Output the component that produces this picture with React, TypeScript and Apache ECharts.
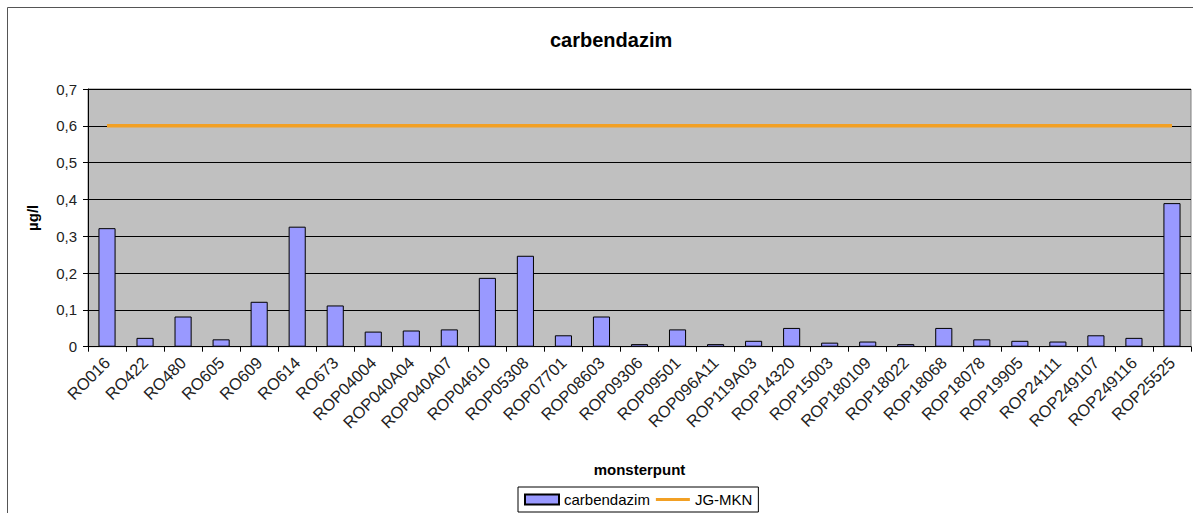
import React, { useEffect, useRef } from "react";
import * as echarts from "echarts";

const categories = [
  "RO016", "RO422", "RO480", "RO605", "RO609", "RO614", "RO673",
  "ROP04004", "ROP040A04", "ROP040A07", "ROP04610", "ROP05308", "ROP07701",
  "ROP08603", "ROP09306", "ROP09501", "ROP096A11", "ROP119A03", "ROP14320",
  "ROP15003", "ROP180109", "ROP18022", "ROP18068", "ROP18078", "ROP19905",
  "ROP24111", "ROP249107", "ROP249116", "ROP25525",
];

const carbendazim = [
  0.322, 0.024, 0.082, 0.02, 0.122, 0.326, 0.112,
  0.041, 0.044, 0.047, 0.187, 0.247, 0.031,
  0.082, 0.007, 0.047, 0.007, 0.016, 0.051,
  0.011, 0.014, 0.007, 0.051, 0.02, 0.016,
  0.014, 0.031, 0.024, 0.39,
];

const jgMkn = [
  0.6, 0.6, 0.6, 0.6, 0.6, 0.6, 0.6,
  0.6, 0.6, 0.6, 0.6, 0.6, 0.6,
  0.6, 0.6, 0.6, 0.6, 0.6, 0.6,
  0.6, 0.6, 0.6, 0.6, 0.6, 0.6,
  0.6, 0.6, 0.6, 0.6,
];

const FONT = "Liberation Sans, Arial, sans-serif";

export default function App() {
  const ref = useRef<HTMLDivElement>(null);
  useEffect(() => {
    if (!ref.current) return;
    const chart = echarts.init(ref.current, undefined, { renderer: "svg" });
    chart.setOption({
      animation: false,
      backgroundColor: "#ffffff",
      textStyle: { fontFamily: FONT },
      title: {
        text: "carbendazim",
        left: 545,
        top: 25,
        textStyle: { fontFamily: FONT, fontSize: 20, fontWeight: "bold", color: "#000" },
      },
      graphic: [
        {
          type: "rect",
          shape: { x: 7.5, y: 7.5, width: 1200, height: 520 },
          style: { fill: "none", stroke: "#555", lineWidth: 1 },
          silent: true,
        },
      ],
      legend: {
        left: 518,
        top: 487,
        orient: "horizontal",
        borderColor: "#000",
        borderWidth: 1,
        padding: [5, 6, 5, 6],
        itemGap: 6,
        itemWidth: 34,
        itemHeight: 10,
        textStyle: { fontFamily: FONT, fontSize: 15, color: "#000" },
        data: [
          { name: "carbendazim", icon: "rect" },
          { name: "JG-MKN", icon: "path://M0,0L34,0L34,3L0,3Z" },
        ],
      },
      grid: {
        left: 88,
        top: 89,
        width: 1103,
        height: 257.7,
        show: true,
        backgroundColor: "#c0c0c0",
        borderColor: "#808080",
        borderWidth: 1,
        containLabel: false,
      },
      xAxis: {
        type: "category",
        data: categories,
        boundaryGap: true,
        name: "monsterpunt",
        nameLocation: "middle",
        nameGap: 115,
        nameTextStyle: { fontFamily: FONT, fontSize: 15, fontWeight: "bold", color: "#000" },
        axisLine: { show: true, lineStyle: { color: "#000", width: 1 } },
        axisTick: { show: true, length: 5, lineStyle: { color: "#000" }, interval: 0 },
        axisLabel: {
          interval: 0,
          rotate: 45,
          margin: 13,
          fontFamily: FONT,
          fontSize: 16.5,
          color: "#222",
        },
        splitLine: { show: false },
      },
      yAxis: {
        type: "value",
        min: 0,
        max: 0.7,
        interval: 0.1,
        name: "µg/l",
        nameLocation: "middle",
        nameGap: 48,
        nameTextStyle: { fontFamily: FONT, fontSize: 15, fontWeight: "bold", color: "#000" },
        axisLine: { show: true, lineStyle: { color: "#000", width: 1 } },
        axisTick: { show: true, length: 5, lineStyle: { color: "#000" } },
        axisLabel: {
          margin: 11,
          fontFamily: FONT,
          fontSize: 15,
          color: "#222",
          formatter: (v: number) => (v === 0 ? "0" : v.toFixed(1).replace(".", ",")),
        },
        splitLine: { show: true, lineStyle: { color: "#000", width: 1 } },
      },
      series: [
        {
          name: "carbendazim",
          type: "bar",
          data: carbendazim,
          barWidth: "45%",
          itemStyle: { color: "#9999ff", borderColor: "#000", borderWidth: 1 },
          z: 2,
        },
        {
          name: "JG-MKN",
          type: "line",
          data: jgMkn,
          symbol: "none",
          lineStyle: { color: "#F2A024", width: 3.5 },
          itemStyle: { color: "#F2A024" },
          z: 3,
        },
      ],
    });
    return () => chart.dispose();
  }, []);
  return (
    <div
      ref={ref}
      style={{ position: "absolute", left: 0, top: 0, width: 1193, height: 513 }}
    />
  );
}
